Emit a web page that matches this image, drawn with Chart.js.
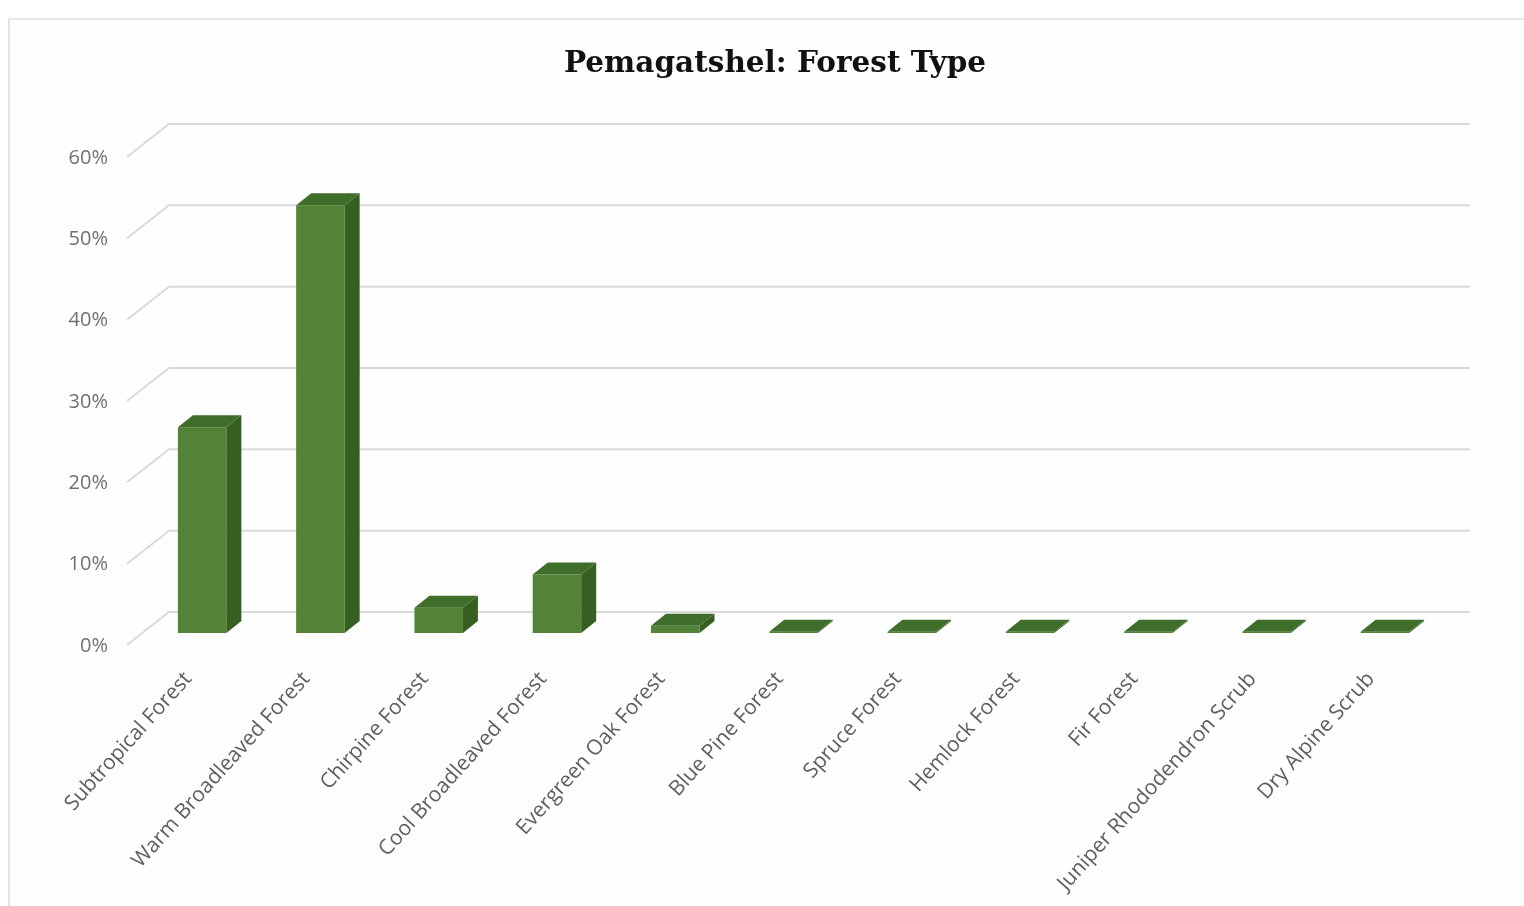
<!DOCTYPE html>
<html>
<head>
<meta charset="utf-8">
<script src="https://cdn.jsdelivr.net/npm/chart.js@4.4.1/dist/chart.umd.min.js"></script>
<style>
  html, body { margin: 0; padding: 0; background: #ffffff; width: 1524px; height: 906px; overflow: hidden; }
  #frame { position: absolute; left: 8px; top: 18px; width: 1600px; height: 1000px;
           border-left: 2px solid #e4e4e4; border-top: 2px solid #e8e8e8; background: #fefefe; }
  #wrap { position: absolute; left: 0; top: 0; width: 1524px; height: 906px; }
</style>
</head>
<body>
<div id="frame"></div>
<div id="wrap"><canvas id="c" width="1524" height="906"></canvas></div>
<script>
const categories = [
  'Subtropical Forest', 'Warm Broadleaved Forest', 'Chirpine Forest', 'Cool Broadleaved Forest',
  'Evergreen Oak Forest', 'Blue Pine Forest', 'Spruce Forest', 'Hemlock Forest',
  'Fir Forest', 'Juniper Rhododendron Scrub', 'Dry Alpine Scrub'
];
const sharePercent = [25.3, 52.6, 3.1, 7.2, 0.9, 0.15, 0.15, 0.15, 0.15, 0.15, 0.15];
const yTickValues = [0, 10, 20, 30, 40, 50, 60];
const titleText = 'Pemagatshel: Forest Type';

// 3D look (style only)
const BAR_DX = 15, BAR_DY = 12;      // depth of each column
const WALL_DX = 26, WALL_DY = 21;    // back wall offset from column front plane
const FLOOR_DX = 16, FLOOR_DY = 12;  // front edge of floor in front of column plane

const depthPlugin = {
  id: 'depth3d',
  beforeDatasetsDraw(chart) {
    const ctx = chart.ctx, y = chart.scales.y, area = chart.chartArea;
    ctx.save();
    ctx.strokeStyle = '#dadada';
    ctx.lineWidth = 2;
    y.ticks.forEach(t => {
      const py = y.getPixelForValue(t.value);
      ctx.beginPath();
      ctx.moveTo(area.left - FLOOR_DX, py + FLOOR_DY);
      ctx.lineTo(area.left + WALL_DX, py - WALL_DY);
      ctx.lineTo(area.right + WALL_DX, py - WALL_DY);
      ctx.stroke();
    });
    ctx.restore();
  },
  afterDatasetsDraw(chart) {
    const ctx = chart.ctx;
    const meta = chart.getDatasetMeta(0);
    ctx.save();
    meta.data.forEach(bar => {
      const p = bar.getProps(['x', 'y', 'base', 'width'], true);
      const l = p.x - p.width / 2, r = p.x + p.width / 2;
      const top = Math.min(p.y, p.base), bottom = Math.max(p.y, p.base);
      // side face
      ctx.fillStyle = '#375f22';
      ctx.beginPath();
      ctx.moveTo(r, top);
      ctx.lineTo(r + BAR_DX, top - BAR_DY);
      ctx.lineTo(r + BAR_DX, bottom - BAR_DY);
      ctx.lineTo(r, bottom);
      ctx.closePath();
      ctx.fill();
      // top face
      ctx.fillStyle = '#3f6d2a';
      ctx.beginPath();
      ctx.moveTo(l, top);
      ctx.lineTo(l + BAR_DX, top - BAR_DY);
      ctx.lineTo(r + BAR_DX, top - BAR_DY);
      ctx.lineTo(r, top);
      ctx.closePath();
      ctx.fill();
    });
    ctx.restore();
  },
  afterDraw(chart) {
    const ctx = chart.ctx;
    ctx.save();
    ctx.fillStyle = '#111111';
    ctx.font = 'bold 29.5px "DejaVu Serif"';
    ctx.textAlign = 'center';
    ctx.textBaseline = 'alphabetic';
    ctx.fillText(titleText, 775, 72);
    ctx.restore();
  }
};

new Chart(document.getElementById('c'), {
  type: 'bar',
  data: {
    labels: categories,
    datasets: [{
      data: sharePercent,
      backgroundColor: '#528336',
      borderWidth: 0,
      barPercentage: 0.41,
      categoryPercentage: 1.0
    }]
  },
  options: {
    responsive: false,
    animation: false,
    devicePixelRatio: 1,
    layout: { padding: { left: 0, right: 80, top: 145, bottom: 0 } },
    plugins: {
      legend: { display: false },
      tooltip: { enabled: false },
      title: { display: false }
    },
    scales: {
      x: {
        grid: { display: false, drawTicks: false },
        border: { display: false },
        ticks: {
          autoSkip: false,
          minRotation: 48,
          maxRotation: 48,
          padding: 34,
          labelOffset: -14,
          color: '#5f5f5f',
          font: { family: 'Open Sans', size: 21 }
        },
        afterFit(s) { s.height = 273; }
      },
      y: {
        min: 0,
        max: 60,
        grid: { display: false, drawTicks: false },
        border: { display: false },
        afterBuildTicks(s) { s.ticks = yTickValues.map(v => ({ value: v })); },
        ticks: {
          padding: 35,
          labelOffset: 13,
          color: '#707070',
          font: { family: 'Open Sans', size: 20 },
          callback: v => v + '%'
        },
        afterFit(s) { s.width = 143; }
      }
    }
  },
  plugins: [depthPlugin]
});
</script>
</body>
</html>
